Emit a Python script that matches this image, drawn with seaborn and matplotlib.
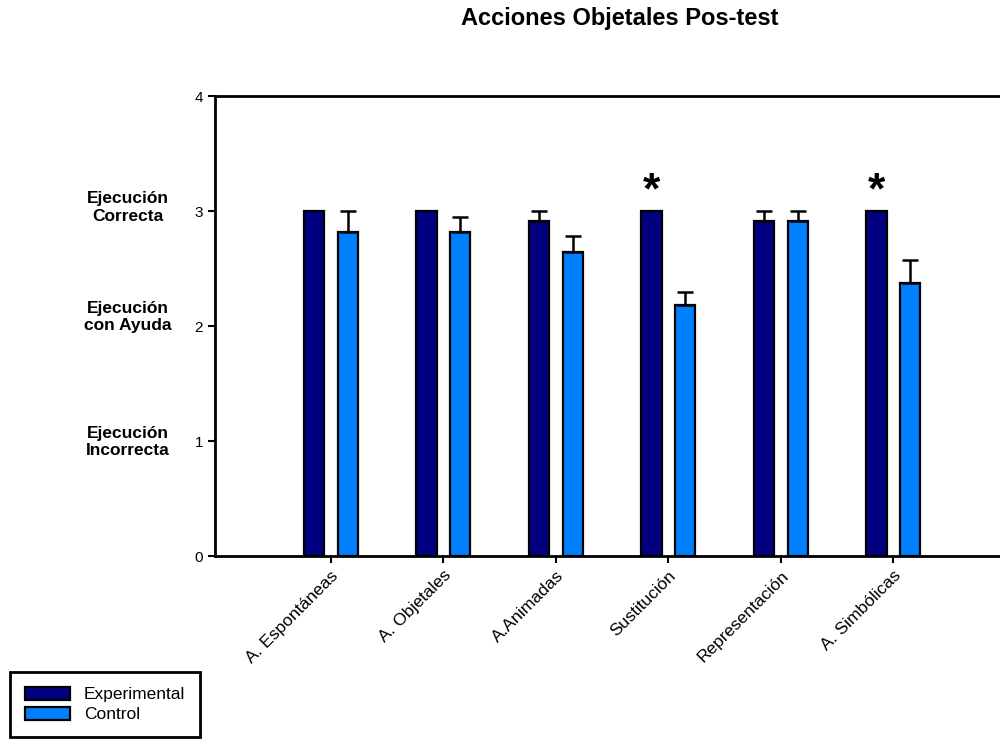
import pandas as pd
import numpy as np
import matplotlib
matplotlib.use("Agg")
import matplotlib.pyplot as plt
import seaborn as sns

# Values
categories = ["A. Espontáneas", "A. Objetales", "A.Animadas", "Sustitución",
              "Representación", "A. Simbólicas"]
groups = ["Experimental", "Control"]
exp_means = [3.0, 3.0, 2.91, 3.0, 2.91, 3.0]
exp_err = [0.0, 0.0, 0.09, 0.0, 0.09, 0.0]
ctrl_means = [2.82, 2.82, 2.64, 2.18, 2.91, 2.37]
ctrl_err = [0.18, 0.13, 0.14, 0.12, 0.09, 0.20]
significant = ["Sustitución", "A. Simbólicas"]
level_names = ["Ejecución\nCorrecta", "Ejecución\ncon Ayuda", "Ejecución\nIncorrecta"]
level_values = [3.03, 2.08, 0.99]

sns.set_style("white")
plt.rcParams["font.family"] = ["Liberation Sans", "DejaVu Sans"]
plt.rcParams["text.color"] = "black"
plt.rcParams["xtick.color"] = "black"
plt.rcParams["ytick.color"] = "black"

df = pd.DataFrame({
    "Accion": categories * 2,
    "Grupo": [groups[0]] * len(categories) + [groups[1]] * len(categories),
    "Puntaje": exp_means + ctrl_means,
})

fig = plt.figure(figsize=(10, 7.4), dpi=100)
ax = fig.add_axes([0.215, 0.2486, 0.791, 0.6216])

sns.barplot(data=df, x="Accion", y="Puntaje", hue="Grupo", order=categories,
            hue_order=groups, palette=["#000080", "#0080FF"], saturation=1,
            width=0.6, gap=0.4, edgecolor="black", linewidth=1.6,
            errorbar=None, ax=ax)

# upper-only error bars on top of the bars
for container, errs in zip(ax.containers, [exp_err, ctrl_err]):
    for bar, e in zip(container, errs):
        if e <= 0:
            continue
        xc = bar.get_x() + bar.get_width() / 2
        ax.errorbar(xc, bar.get_height(), yerr=[[0], [e]], fmt="none",
                    ecolor="black", elinewidth=1.8, capsize=5.5, capthick=1.8,
                    zorder=1)

# significance stars over the experimental bars
for bar, cat in zip(ax.containers[0], categories):
    if cat in significant:
        ax.text(bar.get_x() + bar.get_width() / 2, 3.17, "*", ha="center",
                va="center", fontsize=32, fontweight="bold")

ax.set_xlim(-1.03, 6.0)
ax.set_ylim(0, 4)
ax.set_yticks([0, 1, 2, 3, 4])
ax.set_xlabel("")
ax.set_ylabel("")
ax.tick_params(axis="both", direction="out", length=5, width=1.5, labelsize=11,
               left=True, bottom=True)
plt.setp(ax.get_xticklabels(), rotation=45, ha="right", rotation_mode="anchor",
         fontsize=12.5)
for s in ax.spines.values():
    s.set_visible(True)
    s.set_linewidth(2)
    s.set_color("black")

# verbal labels of the score levels
for name, val in zip(level_names, level_values):
    ax.text(-0.11, val, name, transform=ax.get_yaxis_transform(), ha="center",
            va="center", fontsize=12.5, fontweight="bold", linespacing=1.2)

fig.text(0.62, 0.975, "Acciones Objetales Pos-test", ha="center", va="center",
         fontsize=17, fontweight="bold")

leg = ax.legend(loc="upper left", bbox_to_anchor=(0.01, 0.092),
                bbox_transform=fig.transFigure, frameon=True, fancybox=False,
                framealpha=1, fontsize=12.5, handlelength=2.6, handleheight=0.8,
                handletextpad=0.8, borderpad=0.85, borderaxespad=0,
                labelspacing=0.25, title=None)
leg.get_frame().set_edgecolor("black")
leg.get_frame().set_linewidth(2)

fig.savefig("out.png", dpi=100)
